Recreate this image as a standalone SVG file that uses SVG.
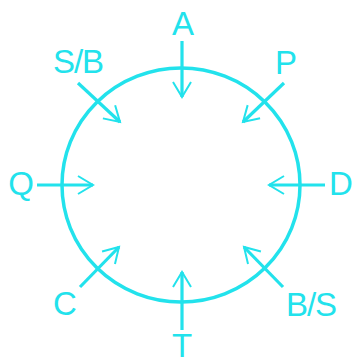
<svg xmlns="http://www.w3.org/2000/svg" width="353" height="360" viewBox="0 0 353 360">
<style>
.c{fill:none;stroke:#22e2ec;stroke-width:3.5}
.l{stroke:#22e2ec;stroke-width:3.2;fill:none;marker-end:url(#ah)}
.t{fill:#22e2ec;font-family:"Liberation Sans",Arial,sans-serif;font-size:33px;text-anchor:middle}
</style>
<defs>
<marker id="ah" markerUnits="userSpaceOnUse" markerWidth="30" markerHeight="30" refX="0" refY="0" viewBox="-20 -15 30 30" orient="auto" overflow="visible">
<path d="M-15,-9 L0,0 L-15,9" fill="none" stroke="#22e2ec" stroke-width="2"/>
</marker>
</defs>
<rect width="353" height="360" fill="#fff"/>
<g id="ring"><ellipse class="c" cx="181" cy="185" rx="119" ry="117"/></g>
<g id="connectors">
<line class="l" x1="182" y1="41" x2="182" y2="97"/>
<line class="l" x1="284" y1="83" x2="243" y2="122"/>
<line class="l" x1="325" y1="185" x2="269" y2="185"/>
<line class="l" x1="283" y1="287" x2="244" y2="247"/>
<line class="l" x1="182" y1="330" x2="182" y2="272"/>
<line class="l" x1="80" y1="287" x2="119" y2="247"/>
<line class="l" x1="37" y1="185" x2="93" y2="185"/>
<line class="l" x1="78" y1="83" x2="120" y2="122"/>
</g>
<g id="A"><text class="t" x="183" y="35">A</text></g>
<g id="P"><text class="t" x="286" y="74">P</text></g>
<g id="D"><text class="t" x="341" y="195">D</text></g>
<g id="BS"><text class="t" x="311" y="316" letter-spacing="-1">B/S</text></g>
<g id="T"><text class="t" x="182" y="357">T</text></g>
<g id="C"><text class="t" x="65" y="315">C</text></g>
<g id="Q"><text class="t" x="21" y="195">Q</text></g>
<g id="SB"><text class="t" x="78" y="73" letter-spacing="-1">S/B</text></g>
</svg>
